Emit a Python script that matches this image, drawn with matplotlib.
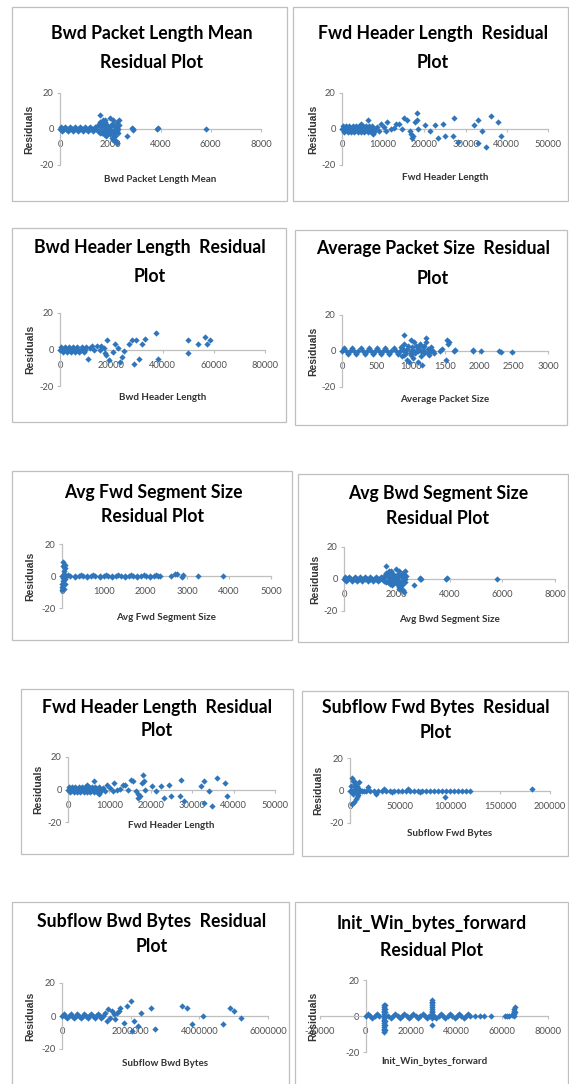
import matplotlib
matplotlib.use("Agg")
import matplotlib.pyplot as plt
from matplotlib.patches import Rectangle

plt.rcParams["axes.unicode_minus"] = False

# ---- data (x value, residual) ----
# Bwd Packet Length Mean (also shown as Avg Bwd Segment Size)
bpl_x = [0, 40, 100, 170, 250, 330, 410, 490, 570, 650, 730, 810, 890, 970, 1050, 1130, 1210, 1290, 1370, 1450,
         20, 200, 400, 600, 800, 1000, 1200, 1400, 60, 300, 500, 700, 900, 1100, 1300, 1500,
         1520, 1550, 1580, 1600, 1620, 1650, 1680, 1700, 1720, 1750, 1780, 1800, 1820, 1850, 1880, 1900,
         1950, 1980, 2000, 2050, 2080, 2100, 2150, 2180, 2200, 2230, 2250, 2280, 2300, 2320, 2350, 2330,
         1550, 1600, 1650, 1700, 1750, 1800, 1850, 1900, 1950, 2000, 2050, 2100, 2150, 2200, 2250, 2300,
         2200, 2100, 1800, 1700, 2650, 2900, 2870, 2920, 3850, 3900, 5800]
bpl_y = [0, 0, 0, 0, 0, 0, 0, 0, 0, 0, 0, 0, 0, 0, 0, 0, 0, 0, 0, 0,
         1, 1, 1, 1, 1, 1, 1, 1, -1, -1, -1, -1, -1, -1, -1, -1,
         2, -1, 4, 8, 3, 1, -2, 5, 2, -3, 4, 0, -4, 2, -1, 1,
         -2, 6, 0, 3, -5, 5, -3, -6, 1, -7, 4, -8, 0, -2, 2, 5,
         2, -2, 3, -1, 2, -2, 3, -2, 1, -3, 2, -1, 2, -2, -1, 2,
         -4, -6, 5, 4, -4, 0, 0.5, -0.3, 0, 0.5, 0]

# Fwd Header Length
fhl_x = [0, 400, 800, 1200, 1600, 2000, 2400, 2800, 3200, 3600, 4000, 4400, 4800, 5200, 5600, 6000, 6400, 6800, 7200, 7600, 8000,
         200, 1000, 1800, 2600, 3400, 4200, 5000, 5800, 6600, 7400,
         600, 1400, 2200, 3000, 3800, 4600, 5400, 6200, 7000, 7800,
         6200, 4500, 7500, 8500, 9000, 9400, 10200, 10800, 11000, 11800, 12600, 13200, 13800, 14500,
         15100, 15800, 16500, 16800, 17000, 17300, 17800, 18200, 18300, 18500, 20200, 21300, 22500, 23300,
         24400, 24900, 27300, 27000, 28100, 32100, 32900, 32900, 34100, 34900, 36100, 37900, 38500]
fhl_y = [0, 0, 0, 0, 0, 0, 0, 0, 0, 0, 0, 0, 0, 0, 0, 0, 0, 0, 0, 0, 0,
         1.5, 1.5, 1.5, 1.5, 1.5, 1.5, 1.5, 1.5, 1.5, 1.5,
         -1.5, -1.5, -1.5, -1.5, -1.5, -1.5, -1.5, -1.5, -1.5, -1.5,
         5, 3, -3, 1, -1, 3, 1, -1, 4, 0, 0.5, 3, 3, 0,
         6, 5, -1, -3, -5, -4, 4, 9, 5, 0, 2, -1, 2, -5,
         3, -4, 6, -4, -7, 2, 5, -8, -1, -10, 7, 4, -4]

# Bwd Header Length
bhl_x = [0, 800, 1600, 2400, 3200, 4000, 4800, 5600, 6400, 7200, 8000, 8800, 9600,
         400, 2000, 3600, 5200, 6800, 8400, 10000,
         1200, 2800, 4400, 6000, 7600, 9200,
         10800, 11800, 12500, 13100, 14400, 15700, 17000, 17700, 18400, 19000, 20700, 21600, 22600,
         23600, 24300, 24800, 26900, 28200, 28900, 29500, 30800, 32100, 33000, 37600, 38400,
         50100, 50100, 53800, 56400, 57300, 58600, 16000, 18000]
bhl_y = [0, 0, 0, 0, 0, 0, 0, 0, 0, 0, 0, 0, 0,
         1.5, 1.5, 1.5, 1.5, 1.5, 1.5, 1.5,
         -1.5, -1.5, -1.5, -1.5, -1.5, -1.5,
         -5, 1, 2, 0, 2, -0.5, 1, -2, 5, -6, -1.5, 3, 1,
         -7, -4, -1, 3, 5, -8, 5, -5, 3, 6, 9, -5,
         5, -2, 3, 7, 3, 5, 2, -3]

# Average Packet Size
aps_x = [0, 60, 120, 180, 240, 300, 360, 420, 480, 540, 600, 660, 720, 780, 840,
         30, 150, 270, 390, 510, 630, 750, 870,
         90, 210, 330, 450, 570, 690, 810,
         860, 880, 900, 910, 930, 950, 960, 980, 1000, 1010, 1020, 1040, 1050, 1060, 1080, 1100,
         1110, 1130, 1150, 1170, 1180, 1200, 1220, 1230, 1250, 1270, 1300, 1320, 1340,
         900, 950, 1000, 1050, 1100, 1150, 1200, 1250, 1000, 1100, 900, 1200, 1300,
         1430, 1460, 1510, 1524, 1548, 1560, 1629, 1640, 1907, 1915, 2027, 2290, 2314, 2482]
aps_y = [0, 0, 0, 0, 0, 0, 0, 0, 0, 0, 0, 0, 0, 0, 0,
         1.5, 1.5, 1.5, 1.5, 1.5, 1.5, 1.5, 1.5,
         -1.5, -1.5, -1.5, -1.5, -1.5, -1.5, -1.5,
         2, -3, 9, 4, -1, -5, 3, -6, 6, -2, 2, -4, 5, -1, 3, -6,
         1, 4, -3, -8, 2, -1, 7, 5, 1, -2, 2, 0, -1,
         -2, 1, -1, 0, 2, 0, 3, -1, 0, 0, 0, 0, 0,
         0, 1, -5, 6, 4, 5, 0, 0.5, 0, 0.5, 0, 0, -0.4, -0.7]

# Avg Fwd Segment Size
afs_x = [0, 0, 10, 20, 30, 40, 50, 60, 70, 30, 80, 50, 0, 20, 60,
         100, 200, 300, 400, 500, 600, 700, 800, 900, 1000, 1100, 1200,
         1300, 1400, 1500, 1600, 1700, 1800, 1900, 2000, 2100, 2200, 2300, 2350,
         150, 450, 750, 1050, 1350, 1650, 1950, 2250,
         300, 600, 900, 1200, 1500, 1800, 2100,
         2600, 2700, 2750, 2880, 2900, 3250, 3850]
afs_y = [-9, -7, -5, -3, -1, 1, 3, 5, 7, 9, -5, -8, 0, 6, -2,
         0, 0, 0, 0, 0, 0, 0, 0, 0, 0, 0, 0,
         0, 0, 0, 0, 0, 0, 0, 0, 0, 0, 0, 0,
         0.8, 0.8, 0.8, 0.8, 0.8, 0.8, 0.8, 0.8,
         -0.8, -0.8, -0.8, -0.8, -0.8, -0.8, -0.8,
         0, 1, 1.5, -0.5, 0.5, 0, 0]

# Subflow Fwd Bytes
sfb_x = [0, 1000, 2000, 3000, 4000, 5000, 6000, 7000, 8000, 9000, 10000, 12000, 14000,
         1500, 2500, 3500, 4500, 5500, 6500, 7500, 8500, 1000, 3000, 5000, 7000, 9000, 2000, 4000, 6000,
         16000, 20000, 24000, 28000, 32000, 36000, 40000, 44000, 48000, 52000, 56000, 60000,
         64000, 68000, 72000, 76000, 80000, 84000, 88000, 92000, 96000, 100000, 104000, 108000,
         112000, 116000, 120000, 18000, 26000, 34000, 42000, 58000, 70000, 95000, 182000]
sfb_y = [0, 0, 0, 0, 0, 0, 0, 0, 0, 0, 0, 0, 0,
         8, 6, -7, 4, -5, 3, -3, 5, 3, -2, 2, -4, 1, -8, 6, -1,
         0, 0, 0, 0, 0, 0, 0, 0, 0, 0, 0, 0,
         0, 0, 0, 0, 0, 0, 0, 0, 0, 0, 0, 0,
         0, 0, 0, 2, -2, 1, -1, 1, -1, -4, 1]

# Subflow Bwd Bytes
sbb_x = [0, 100000, 200000, 300000, 400000, 500000, 600000, 700000, 800000, 900000, 1000000, 1100000, 1200000,
         50000, 250000, 450000, 650000, 850000, 1050000, 150000, 350000, 550000, 750000, 950000, 1150000,
         1250000, 1300000, 1350000, 1400000, 1450000, 1500000, 1550000, 1600000, 1700000, 1800000, 1900000,
         2000000, 2100000, 2200000, 2300000, 2600000, 2700000, 3500000, 3650000, 3800000, 4100000,
         4700000, 4900000, 5000000, 5200000, 2050000, 1650000]
sbb_y = [0, 0, 0, 0, 0, 0, 0, 0, 0, 0, 0, 0, 0,
         1.5, 1.5, 1.5, 1.5, 1.5, 1.5, -1.5, -1.5, -1.5, -1.5, -1.5, -1.5,
         2, -3, 4, -1, 3, 1, -2, 2, 5, -4, 6,
         9, -3, -6, 2, 5, -8, 6, 5, -5, 0,
         -5, 5, 3, -1, -9, 3]

# Init_Win_bytes_forward
iwb_x = [0, 2000, 4000, 6000, 10000, 12000, 14000, 16000, 18000, 20000, 22000, 24000, 26000, 28000,
         30000, 32000, 34000, 36000, 38000, 40000, 42000, 44000, 46000, 48000, 50000, 52000,
         1000, 5000, 13000, 17000, 21000, 25000, 33000, 37000, 41000, 45000,
         3000, 11000, 15000, 19000, 23000, 27000, 31000, 35000, 39000, 43000,
         8000, 8000, 8000, 8000, 8000, 8000, 8000, 8000, 8000, 8000, 8000, 8000, 8000, 8000, 8000, 8000,
         8400, 8400, 8400, 8400, 8400, 8400,
         29200, 29200, 29200, 29200, 29200, 29200, 29200, 29200, 29200, 29200, 29200, 29200,
         55000, 61000, 62000, 63000, 64000, 64500, 65000, 65000, 65000, 65000, 65000, 65500, 65500]
iwb_y = [0, 0, 0, 0, 0, 0, 0, 0, 0, 0, 0, 0, 0, 0,
         0, 0, 0, 0, 0, 0, 0, 0, 0, 0, 0, 0,
         1, 1, 1, 1, 1, 1, 1, 1, 1, 1,
         -1, -1, -1, -1, -1, -1, -1, -1, -1, -1,
         -9, -8, -7, -6, -5, -4, -3, -2, -1, 0, 1, 2, 3, 4, 5, 6,
         -8, -5, -3, 2, 4, 6,
         -5, -1, 0, 1, 2, 3, 4, 5, 6, 7, 8, 9,
         0, 0, 0, 0, 0.5, 1, 0, 1, 2, 3, 4, 5, 2]

bpl_ticks = [0, 2000, 4000, 6000, 8000]
fhl_ticks = [0, 10000, 20000, 30000, 40000, 50000]
bhl_ticks = [0, 20000, 40000, 60000, 80000]
aps_ticks = [0, 500, 1000, 1500, 2000, 2500, 3000]
afs_ticks = [0, 1000, 2000, 3000, 4000, 5000]
sfb_ticks = [0, 50000, 100000, 150000, 200000]
sbb_ticks = [0, 2000000, 4000000, 6000000]
iwb_ticks = [-20000, 0, 20000, 40000, 60000, 80000]
y_ticks = [-20, 0, 20]

W, H = 569, 1084
BLUE = "#2F75BC"
GRID = "#BFBFBF"
FONT = ["Liberation Sans Narrow", "Lato", "DejaVu Sans"]
plt.rcParams["font.family"] = FONT

fig = plt.figure(figsize=(W / 100, H / 100), dpi=100)
renderer = fig.canvas.get_renderer()


def fit_size(text, target_px, weight="normal"):
    # font size so that the string is about as wide as in the picture
    t = fig.text(0, 0, text, fontsize=10, fontweight=weight)
    w = t.get_window_extent(renderer).width
    t.remove()
    return 10 * target_px / w


TITLE_FS = fit_size("Bwd Packet Length Mean", 180, "bold") * 1.12
LABEL_FS = fit_size("Bwd Packet Length Mean", 103, "bold") * 1.1
TICK_FS = fit_size("4000", 18) * 1.2


def fx(px):
    return px / W


def fy(py):
    return 1 - py / H


def panel(box, title, tcx, tys, xs, ys, ticks, xpx, ypx, xlabel, xly, resx):
    l, t, r, b = box
    fig.patches.append(Rectangle((fx(l), fy(b)), fx(r) - fx(l), fy(t) - fy(b),
                                 transform=fig.transFigure, fill=False, ec=GRID, lw=0.9))
    for line, ty in zip(title, tys):
        fig.text(fx(tcx), fy(ty), line, ha="center", va="center", fontsize=TITLE_FS,
                 fontweight="bold", color="black")

    ax = fig.add_axes([fx(xpx[0]), fy(ypx[1]), fx(xpx[1]) - fx(xpx[0]), fy(ypx[0]) - fy(ypx[1])])
    ax.patch.set_alpha(0)
    ax.plot(xs, ys, "D", ms=3.2, color=BLUE, mec="none", clip_on=False, zorder=3)
    ax.set_xlim(ticks[0], ticks[-1])
    ax.set_ylim(-20, 20)
    ax.set_xticks(ticks)
    ax.set_yticks(y_ticks)
    ax.ticklabel_format(style="plain", useOffset=False)
    for s in ["top", "right"]:
        ax.spines[s].set_visible(False)
    ax.spines["left"].set_position(("data", 0))
    ax.spines["bottom"].set_position(("data", 0))
    for s in ["left", "bottom"]:
        ax.spines[s].set_color(GRID)
        ax.spines[s].set_linewidth(0.9)
    ax.tick_params(axis="x", length=2, width=0.8, color=GRID, pad=6, labelsize=TICK_FS, labelcolor="#505050")
    ax.tick_params(axis="y", length=2, width=0.8, color=GRID, pad=2.5, labelsize=TICK_FS, labelcolor="#505050")

    fig.text(fx((xpx[0] + xpx[1]) / 2), fy(xly), xlabel, ha="center", va="center",
             fontsize=LABEL_FS, fontweight="bold", color="#333333")
    fig.text(fx(resx), fy((ypx[0] + ypx[1]) / 2), "Residuals", rotation=90, ha="center", va="center",
             fontsize=7.5, fontweight="bold", family=["Liberation Sans", "DejaVu Sans"], color="#333333")


panel((12, 7, 287, 201), ["Bwd Packet Length Mean", "Residual Plot"], 152, (33, 62),
      bpl_x, bpl_y, bpl_ticks, (60, 261), (93, 165), "Bwd Packet Length Mean", 180, 29)
panel((293, 7, 568, 201), ["Fwd Header Length  Residual", "Plot"], 433, (33, 62),
      fhl_x, fhl_y, fhl_ticks, (342, 548), (93, 165), "Fwd Header Length", 177, 313)
panel((12, 228, 286, 422), ["Bwd Header Length  Residual", "Plot"], 150, (247, 277),
      bhl_x, bhl_y, bhl_ticks, (60, 265), (313, 386), "Bwd Header Length", 397, 30)
panel((295, 230, 567, 425), ["Average Packet Size  Residual", "Plot"], 433, (249, 279),
      aps_x, aps_y, aps_ticks, (342, 548), (315, 387), "Average Packet Size", 400, 313)
panel((12, 471, 292, 640), ["Avg Fwd Segment Size", "Residual Plot"], 153, (492, 517),
      afs_x, afs_y, afs_ticks, (62, 271), (544, 608), "Avg Fwd Segment Size", 618, 30)
panel((298, 474, 568, 642), ["Avg Bwd Segment Size", "Residual Plot"], 438, (493, 518),
      bpl_x, bpl_y, bpl_ticks, (344, 555), (547, 611), "Avg Bwd Segment Size", 620, 315)
panel((21, 689, 293, 854), ["Fwd Header Length  Residual", "Plot"], 157, (707, 731),
      fhl_x, fhl_y, fhl_ticks, (68, 275), (757, 822), "Fwd Header Length", 826, 38)
panel((302, 691, 568, 856), ["Subflow Fwd Bytes  Residual", "Plot"], 436, (708, 733),
      sfb_x, sfb_y, sfb_ticks, (350, 550), (758, 823), "Subflow Fwd Bytes", 833, 318)
panel((12, 902, 289, 1092), ["Subflow Bwd Bytes  Residual", "Plot"], 152, (921, 947),
      sbb_x, sbb_y, sbb_ticks, (62, 268), (983, 1049), "Subflow Bwd Bytes", 1063, 30)
panel((295, 902, 568, 1092), ["Init_Win_bytes_forward", "Residual Plot"], 432, (923, 950),
      iwb_x, iwb_y, iwb_ticks, (320, 548), (980, 1052), "Init_Win_bytes_forward", 1062, 313)

fig.savefig("out.png", dpi=100)
